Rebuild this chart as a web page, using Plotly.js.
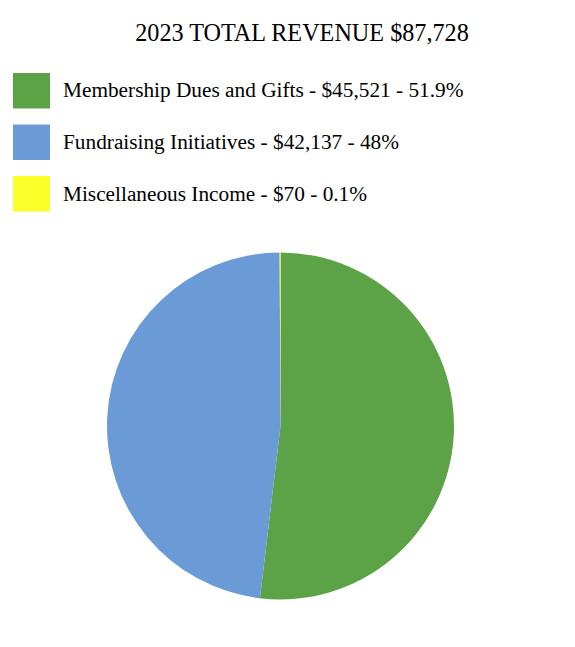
<!DOCTYPE html>
<html>
<head>
<meta charset="utf-8">
<script src="https://cdn.plot.ly/plotly-3.0.1.min.js"></script>
<style>html,body{margin:0;padding:0;background:#fff;}#chart{width:575px;height:647px;}</style>
</head>
<body>
<div id="chart"></div>
<script>
const titleText = "2023 TOTAL REVENUE $87,728";
const categories = ["Membership Dues and Gifts", "Fundraising Initiatives", "Miscellaneous Income"];
const values = [45521, 42137, 70];
const valueLabels = ["$45,521", "$42,137", "$70"];
const percentLabels = ["51.9%", "48%", "0.1%"];
const colors = ["#5CA347", "#6B9BD6", "#FAFF2A"];

const W = 575, H = 647;
const px = x => x / W;
const py = y => 1 - y / H;

const shapes = [];
const annotations = [];
categories.forEach((c, i) => {
  const top = 73 + i * 51.5;
  shapes.push({type: "rect", xref: "paper", yref: "paper",
    x0: px(13), x1: px(50), y0: py(top), y1: py(top + 35.5),
    fillcolor: colors[i], line: {width: 0}});
  annotations.push({xref: "paper", yref: "paper", x: px(61), y: py(top + 17.5),
    xanchor: "left", yanchor: "middle", showarrow: false,
    text: c + " - " + valueLabels[i] + " - " + percentLabels[i],
    font: {family: "Liberation Serif, Times New Roman, serif", size: 21.3, color: "#000"}});
});

const data = [{
  type: "pie",
  labels: categories,
  values: values,
  marker: {colors: colors, line: {width: 0}},
  sort: false,
  direction: "clockwise",
  rotation: 0,
  textinfo: "none",
  hoverinfo: "label+value+percent",
  showlegend: false,
  domain: {x: [px(107), px(454)], y: [py(599.5), py(252.5)]}
}];

const layout = {
  width: W, height: H,
  margin: {l: 0, r: 0, t: 0, b: 0},
  paper_bgcolor: "#fff",
  title: {text: titleText, x: px(302), xanchor: "center", y: py(33), yanchor: "middle",
    font: {family: "Liberation Serif, Times New Roman, serif", size: 24.2, color: "#000"}},
  shapes: shapes,
  annotations: annotations,
  showlegend: false
};

Plotly.newPlot("chart", data, layout, {displayModeBar: false, staticPlot: true});
</script>
</body>
</html>
